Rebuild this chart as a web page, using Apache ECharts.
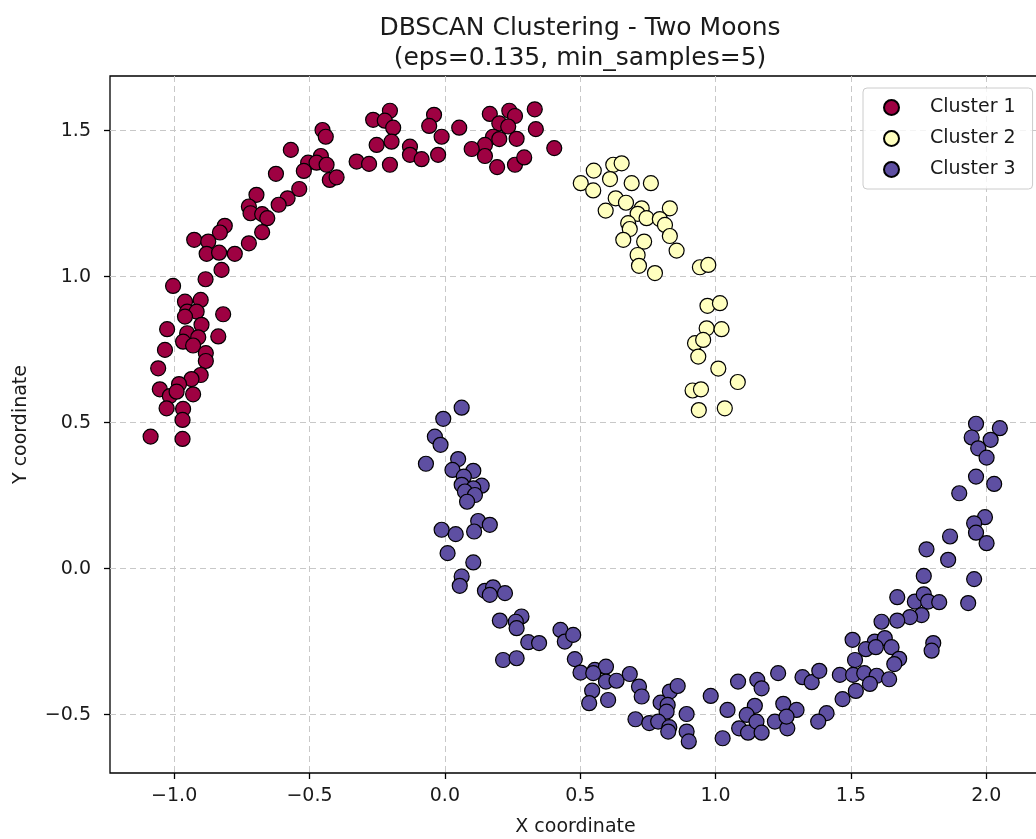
<!DOCTYPE html>
<html>
<head>
<meta charset="utf-8">
<script src="https://cdn.jsdelivr.net/npm/echarts@6/dist/echarts.min.js"></script>
<style>
html,body{margin:0;padding:0;background:#fff;}
#chart{width:1036px;height:839px;}
</style>
</head>
<body>
<div id="chart"></div>
<script>
const titleText = 'DBSCAN Clustering - Two Moons\n(eps=0.135, min_samples=5)';
const xName = 'X coordinate';
const yName = 'Y coordinate';
const seriesNames = ['Cluster 1', 'Cluster 2', 'Cluster 3'];
const seriesColors = ['#9e0142', '#ffffbf', '#5e4fa2'];
const xTicks = [-1.0, -0.5, 0.0, 0.5, 1.0, 1.5, 2.0];
const xTickLabels = ['\u22121.0', '\u22120.5', '0.0', '0.5', '1.0', '1.5', '2.0'];
const yTicks = [-0.5, 0.0, 0.5, 1.0, 1.5];
const yTickLabels = ['\u22120.5', '0.0', '0.5', '1.0', '1.5'];
const xRange = [-1.237, 2.202];
const yRange = [-0.700, 1.687];

const cluster1 = [
[-0.696,1.280],[-0.724,1.240],[-0.718,1.217],[-0.675,1.214],[-0.656,1.200],[-0.675,1.152],[-0.813,1.174],[-0.831,1.151],
[-0.926,1.126],[-0.874,1.120],[-0.724,1.114],[-0.880,1.078],[-0.834,1.082],[-0.776,1.078],[-0.825,1.023],[-0.884,0.991],
[-1.004,0.968],[-0.960,0.914],[-0.902,0.920],[-0.952,0.880],[-0.917,0.880],[-0.960,0.863],[-0.819,0.871],[-0.899,0.835],
[-1.026,0.820],[-0.952,0.806],[-0.911,0.792],[-0.967,0.777],[-0.837,0.795],[-0.930,0.764],[-1.034,0.749],[-0.883,0.738],
[-0.883,0.711],[-1.059,0.686],[-0.902,0.663],[-0.936,0.649],[-0.982,0.632],[-1.053,0.614],[-1.016,0.591],[-0.991,0.606],
[-0.930,0.597],[-1.028,0.549],[-0.967,0.547],[-0.969,0.509],[-1.087,0.452],[-0.969,0.444],
[-0.265,1.537],[-0.252,1.451],[-0.452,1.502],[-0.440,1.479],[-0.569,1.434],[-0.458,1.413],[-0.505,1.390],[-0.474,1.390],
[-0.437,1.383],[-0.521,1.362],[-0.425,1.331],[-0.400,1.340],[-0.326,1.394],[-0.280,1.386],[-0.624,1.352],[-0.538,1.300],
[-0.581,1.268],[-0.614,1.246],
[-0.203,1.568],[-0.222,1.534],[-0.191,1.510],[-0.040,1.554],[-0.058,1.516],[-0.012,1.479],[0.053,1.510],[-0.197,1.462],
[-0.129,1.445],[-0.129,1.417],[-0.086,1.402],[-0.025,1.417],[-0.203,1.383],[0.166,1.557],[0.238,1.568],[0.259,1.550],
[0.332,1.573],[0.201,1.525],[0.234,1.514],[0.336,1.505],[0.178,1.479],[0.201,1.471],[0.265,1.472],[0.148,1.451],
[0.099,1.437],[0.148,1.413],[0.193,1.375],[0.259,1.383],[0.293,1.408],[0.404,1.440]
];

const cluster2 = [
[0.502,1.320],[0.550,1.363],[0.548,1.295],[0.622,1.383],[0.653,1.388],[0.610,1.334],[0.690,1.320],[0.761,1.320],
[0.631,1.268],[0.669,1.253],[0.594,1.226],[0.727,1.234],[0.712,1.215],[0.745,1.200],[0.831,1.234],[0.794,1.197],
[0.813,1.177],[0.677,1.183],[0.683,1.163],[0.831,1.139],[0.736,1.120],[0.659,1.126],[0.712,1.074],[0.856,1.089],
[0.717,1.037],[0.776,1.012],[0.942,1.032],[0.973,1.040],[0.970,0.900],[1.016,0.909],[0.967,0.823],[1.022,0.820],
[0.924,0.772],[0.954,0.783],[0.936,0.726],[1.010,0.685],[0.915,0.610],[0.946,0.614],[0.938,0.543],[1.034,0.549],
[1.082,0.639]
];

const cluster3 = [
[0.062,0.551],[-0.006,0.513],[-0.037,0.452],[-0.016,0.424],[-0.070,0.359],[0.049,0.375],[0.028,0.338],[0.105,0.335],
[0.070,0.315],[0.062,0.287],[0.136,0.284],[0.105,0.275],[0.074,0.264],[0.111,0.252],[0.082,0.229],[0.123,0.163],
[0.166,0.150],[0.108,0.127],[-0.012,0.133],[0.040,0.118],[0.010,0.053],[0.105,0.021],[0.062,-0.027],[0.055,-0.059],
[0.148,-0.076],[0.178,-0.064],[0.166,-0.090],[0.222,-0.084],[0.203,-0.178],[0.283,-0.164],[0.262,-0.182],[0.265,-0.204],
[0.308,-0.252],[0.348,-0.255],[0.215,-0.313],[0.265,-0.307],[0.427,-0.210],[0.443,-0.250],
[0.474,-0.227],[0.480,-0.310],[0.501,-0.356],[0.554,-0.347],[0.595,-0.336],[0.548,-0.358],[0.595,-0.387],[0.634,-0.384],
[0.544,-0.418],[0.533,-0.461],[0.603,-0.450],[0.683,-0.361],[0.717,-0.404],[0.727,-0.438],[0.704,-0.516],[0.755,-0.529],
[0.797,-0.459],[0.831,-0.421],[0.860,-0.402],[0.823,-0.467],[0.819,-0.490],[0.788,-0.524],[0.829,-0.543],[0.825,-0.558],
[0.893,-0.498],[0.893,-0.558],[0.901,-0.592],[0.982,-0.436],[1.044,-0.484],[1.026,-0.581],[1.083,-0.387],[1.154,-0.381],
[1.170,-0.410],[1.231,-0.358],[1.145,-0.470],[1.115,-0.501],[1.087,-0.547],[1.120,-0.562],[1.151,-0.524],[1.170,-0.562],
[1.250,-0.463],[1.219,-0.524],[1.265,-0.547],[1.299,-0.484],
[1.859,0.030],[1.769,-0.025],[1.671,-0.098],[1.736,-0.113],[1.769,-0.088],[1.785,-0.113],[1.826,-0.115],[1.761,-0.159],
[1.718,-0.166],[1.671,-0.178],[1.613,-0.182],[1.804,-0.255],[1.798,-0.281],[1.506,-0.244],[1.588,-0.250],[1.625,-0.238],
[1.555,-0.276],[1.592,-0.269],[1.650,-0.269],[1.515,-0.313],[1.678,-0.309],[1.660,-0.327],[1.459,-0.364],[1.508,-0.364],
[1.549,-0.358],[1.595,-0.367],[1.641,-0.379],[1.570,-0.395],[1.518,-0.419],[1.469,-0.447],[1.321,-0.372],[1.355,-0.389],
[1.383,-0.350],[1.262,-0.507],[1.410,-0.495],[1.379,-0.524],
[1.962,0.496],[2.050,0.481],[1.946,0.449],[2.016,0.441],[1.970,0.412],[2.001,0.380],[1.962,0.315],[2.029,0.290],
[1.900,0.258],[1.995,0.176],[1.955,0.155],[1.962,0.123],[2.001,0.087],[1.866,0.110],[1.779,0.066],[1.955,-0.036],
[1.933,-0.118]
];

const FONT = '"DejaVu Sans", sans-serif';
const chart = echarts.init(document.getElementById('chart'), null, {renderer: 'canvas'});

function labelFor(ticks, labels) {
  return function (v) {
    for (let i = 0; i < ticks.length; i++) {
      if (Math.abs(ticks[i] - v) < 1e-9) return labels[i];
    }
    return '';
  };
}

const gridLine = {show: true, lineStyle: {color: '#c8c8c8', type: [6, 4], width: 1}};

const seriesData = [cluster1, cluster2, cluster3];

chart.setOption({
  animation: false,
  backgroundColor: '#ffffff',
  title: {
    text: titleText,
    left: 575,
    top: 8,
    textAlign: 'center',
    textStyle: {fontFamily: FONT, fontSize: 25, fontWeight: 'normal', color: '#1a1a1a', lineHeight: 30}
  },
  grid: {
    left: 110, top: 76, width: 931, height: 697,
    outerBoundsMode: 'none',
    containLabel: false,
    show: true, borderColor: '#000', borderWidth: 1.3, backgroundColor: 'transparent'
  },
  legend: {
    left: 863, top: 88,
    orient: 'vertical',
    data: seriesNames,
    icon: 'circle',
    itemWidth: 15, itemHeight: 15,
    itemGap: 12,
    padding: [10, 17, 10, 20],
    backgroundColor: 'rgba(255,255,255,0.8)',
    borderColor: '#cccccc', borderWidth: 1, borderRadius: 4,
    textStyle: {fontFamily: FONT, fontSize: 19, color: '#1a1a1a', lineHeight: 19, padding: [0, 0, 0, 26]}
  },
  xAxis: {
    type: 'value', min: xRange[0], max: xRange[1],
    name: xName, nameLocation: 'middle', nameGap: 45,
    nameTextStyle: {fontFamily: FONT, fontSize: 19, color: '#1a1a1a'},
    axisLine: {show: false, onZero: false},
    axisTick: {show: true, length: 6, customValues: xTicks, lineStyle: {color: '#000', width: 1.3}},
    axisLabel: {show: true, customValues: xTicks, margin: 14, fontFamily: FONT, fontSize: 19, color: '#1a1a1a',
      formatter: labelFor(xTicks, xTickLabels)},
    splitLine: gridLine
  },
  yAxis: {
    type: 'value', min: yRange[0], max: yRange[1],
    name: yName, nameLocation: 'middle', nameGap: 79,
    nameTextStyle: {fontFamily: FONT, fontSize: 19, color: '#1a1a1a'},
    axisLine: {show: false, onZero: false},
    axisTick: {show: true, length: 6, customValues: yTicks, lineStyle: {color: '#000', width: 1.3}},
    axisLabel: {show: true, customValues: yTicks, margin: 19, fontFamily: FONT, fontSize: 19, color: '#1a1a1a',
      formatter: labelFor(yTicks, yTickLabels)},
    splitLine: gridLine
  },
  series: seriesNames.map((n, i) => ({
    name: n,
    type: 'scatter',
    data: seriesData[i],
    symbol: 'circle',
    symbolSize: 15,
    itemStyle: {color: seriesColors[i], borderColor: '#000', borderWidth: 1.2, opacity: 1},
    emphasis: {disabled: true}
  }))
});
</script>
</body>
</html>
